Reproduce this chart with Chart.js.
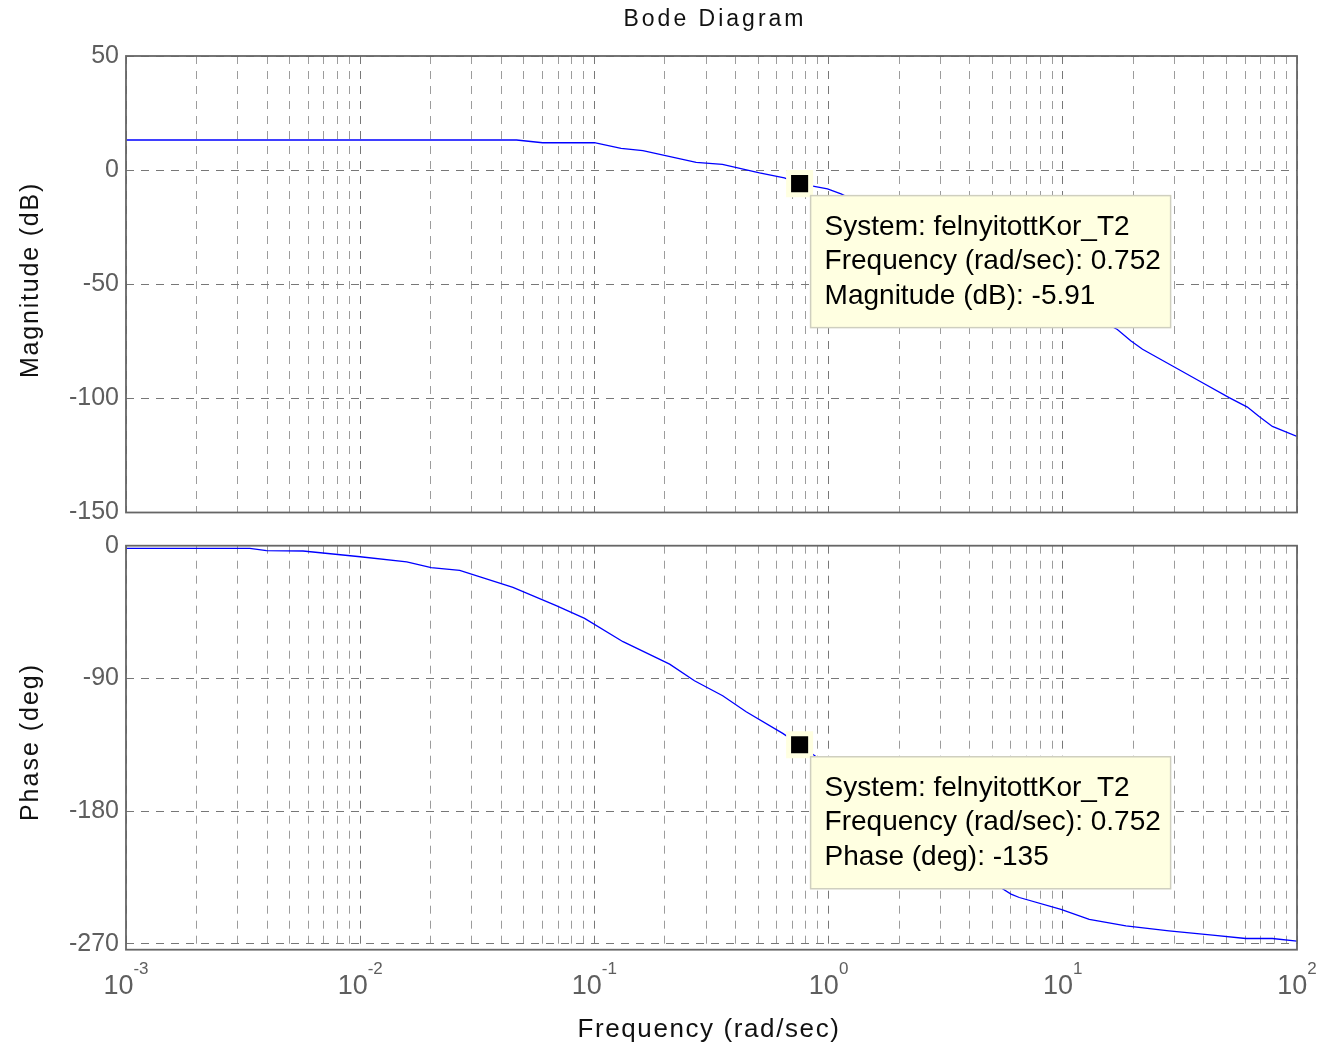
<!DOCTYPE html>
<html>
<head>
<meta charset="utf-8">
<title>Bode Diagram</title>
<script src="https://cdn.jsdelivr.net/npm/chart.js@4.4.7/dist/chart.umd.min.js"></script>
<style>
  html, body { margin: 0; padding: 0; background: #fff; }
  #page { position: relative; width: 1323px; height: 1048px; overflow: hidden; font-family: "Liberation Sans", Arial, sans-serif; }
  .layer { position: absolute; left: 0; top: 0; width: 1323px; height: 1048px; }
  .lbl { position: absolute; color: #111; white-space: nowrap; }
  #title { left: 715px; top: 18px; transform: translate(-50%, -50%); font-size: 23px; letter-spacing: 3px; }
  #xlabel { left: 709px; top: 1028px; transform: translate(-50%, -50%); font-size: 26px; letter-spacing: 1.6px; }
  #ylabelMag { left: 29px; top: 280px; transform: translate(-50%, -50%) rotate(-90deg); font-size: 25px; letter-spacing: 1.8px; }
  #ylabelPhase { left: 29px; top: 742px; transform: translate(-50%, -50%) rotate(-90deg); font-size: 25px; letter-spacing: 2px; }
</style>
</head>
<body>
<div id="page">
  <div class="layer"><canvas id="magChart"></canvas></div>
  <div class="layer"><canvas id="phaseChart"></canvas></div>
  <div class="lbl" id="title">Bode Diagram</div>
  <div class="lbl" id="ylabelMag">Magnitude (dB)</div>
  <div class="lbl" id="ylabelPhase">Phase (deg)</div>
  <div class="lbl" id="xlabel">Frequency (rad/sec)</div>
</div>
<script>
// frequency response samples (rad/sec)
const magFreq = [0.001, 0.0465, 0.0601, 0.1, 0.130, 0.161, 0.272, 0.352, 0.507, 0.647, 0.752, 0.989, 1.13,
                 15.8, 17.1, 19.5, 21.9, 28.9, 38.8, 51.3, 61.4, 68.9, 78.5, 100];
const magDb = [13.2, 13.2, 12.0, 12.0, 9.5, 8.5, 3.4, 2.5, -1.2, -3.4, -5.91, -8.2, -10.4,
               -67.9, -69.8, -74.8, -78.5, -85.4, -92.7, -99.7, -103.8, -107.9, -112.3, -116.7];

const phaseFreq = [0.001, 0.00338, 0.00398, 0.0057, 0.01, 0.0158, 0.0201, 0.0266, 0.0449, 0.0687, 0.0908,
                   0.1325, 0.2095, 0.2674, 0.353, 0.4446, 0.637, 0.752, 0.885,
                   5.36, 6.01, 6.52, 9.82, 12.97, 18.6, 28.4, 43.6, 60.4, 78.5, 100];
const phaseDeg = [-1.8, -1.8, -3.4, -3.6, -7.5, -10.9, -14.8, -16.7, -28.2, -40.7, -49.3,
                  -65.1, -80.3, -91.6, -101.8, -112.6, -127.3, -135, -143.1,
                  -231.3, -236.3, -238.6, -246.7, -253.5, -257.8, -261.2, -264.1, -266.4, -266.4, -268.2];

// data tip
const systemName = "felnyitottKor_T2";
const tipFreq = 0.752;
const tipMag = -5.91;
const tipPhase = -135;

// axes
const xDecades = [-3, -2, -1, 0, 1, 2];
const xMinorSteps = [2, 3, 4, 5, 6, 7, 8, 9];
const magTicks = [50, 0, -50, -100, -150];
const phaseTicks = [0, -90, -180, -270];

const FONT = '"Liberation Sans", Arial, sans-serif';
const TICK_COLOR = "#5e5e5e";

const freqGrid = [];
xDecades.forEach((d, i) => {
    freqGrid.push({ value: Math.pow(10, d), major: true });
    if (i < xDecades.length - 1) {
        xMinorSteps.forEach(m => freqGrid.push({ value: m * Math.pow(10, d), major: false }));
    }
});

function xScale() {
    return {
        type: "logarithmic",
        min: 1e-3,
        max: 1e2,
        afterBuildTicks: s => { s.ticks = freqGrid.map(t => ({ value: t.value, major: t.major })); },
        afterFit: s => { s.height = 0; },
        ticks: { display: false },
        grid: {
            color: c => (c.tick && c.tick.major ? "#777" : "#9c9c9c"),
            lineWidth: 1,
            drawTicks: false,
        },
        border: { display: false, dash: [8, 7] },
    };
}

function yScale(min, max, tickValues) {
    return {
        type: "linear",
        min: min,
        max: max,
        afterBuildTicks: s => { s.ticks = tickValues.map(v => ({ value: v })); },
        afterFit: s => { s.width = 126; },
        ticks: {
            color: TICK_COLOR,
            font: { family: FONT, size: 25 },
            padding: 7,
            callback: v => String(v),
        },
        grid: { color: "#777", lineWidth: 1, drawTicks: false },
        border: { display: false, dash: [8, 7] },
    };
}

// box around the plot area
const axesFrame = {
    id: "axesFrame",
    afterDraw(chart) {
        const a = chart.chartArea, ctx = chart.ctx;
        ctx.save();
        ctx.strokeStyle = "#666";
        ctx.lineWidth = 1.8;
        ctx.strokeRect(a.left, a.top, a.right - a.left, a.bottom - a.top);
        ctx.restore();
    },
};

// yellow data tip box next to the marker
const dataTip = {
    id: "dataTip",
    afterDatasetsDraw(chart, args, opts) {
        if (!opts.lines) return;
        const ctx = chart.ctx;
        const px = chart.scales.x.getPixelForValue(opts.freq);
        const py = chart.scales.y.getPixelForValue(opts.value);
        const left = px + 11, top = py + 12, w = 360, h = 132;
        ctx.save();
        ctx.fillStyle = "#ffffe1";
        ctx.strokeStyle = "#cfcfbf";
        ctx.lineWidth = 1.5;
        ctx.fillRect(left, top, w, h);
        ctx.strokeRect(left, top, w, h);
        ctx.fillStyle = "#000";
        ctx.font = "28px " + FONT;
        ctx.textBaseline = "alphabetic";
        opts.lines.forEach((t, i) => ctx.fillText(t, left + 14, top + 39 + i * 34.5));
        ctx.restore();
    },
};

// 10^n labels under the frequency axis
const decadeLabels = {
    id: "decadeLabels",
    afterDraw(chart, args, opts) {
        if (!opts.show) return;
        const ctx = chart.ctx, x = chart.scales.x, base = chart.chartArea.bottom;
        ctx.save();
        ctx.fillStyle = TICK_COLOR;
        ctx.textBaseline = "alphabetic";
        ctx.textAlign = "left";
        xDecades.forEach(d => {
            const p = x.getPixelForValue(Math.pow(10, d));
            ctx.font = "27px " + FONT;
            const w1 = ctx.measureText("10").width;
            ctx.font = "17px " + FONT;
            const w2 = ctx.measureText(String(d)).width;
            const start = p - (w1 + w2) / 2;
            ctx.font = "27px " + FONT;
            ctx.fillText("10", start, base + 44);
            ctx.font = "17px " + FONT;
            ctx.fillText(String(d), start + w1, base + 24);
        });
        ctx.restore();
    },
};

function curve(freqs, vals) {
    return {
        data: freqs.map((f, i) => ({ x: f, y: vals[i] })),
        borderColor: "#0000ff",
        borderWidth: 1.3,
        pointRadius: 0,
        tension: 0,
        order: 1,
    };
}

function marker(freq, val) {
    return {
        data: [{ x: freq, y: val }],
        showLine: false,
        pointStyle: "rect",
        pointRadius: 15.6,
        pointBackgroundColor: "#000",
        pointBorderColor: "#ffffe1",
        pointBorderWidth: 5,
        order: 0,
    };
}

function makeChart(id, datasets, yOpts, padding, tip, showDecades) {
    return new Chart(document.getElementById(id), {
        type: "line",
        data: { datasets: datasets },
        options: {
            responsive: true,
            maintainAspectRatio: false,
            animation: false,
            events: [],
            layout: { padding: padding },
            scales: { x: xScale(), y: yOpts },
            plugins: {
                legend: { display: false },
                tooltip: { enabled: false },
                dataTip: tip,
                decadeLabels: { show: showDecades },
            },
        },
        plugins: [dataTip, axesFrame, decadeLabels],
    });
}

makeChart(
    "magChart",
    [curve(magFreq, magDb), marker(tipFreq, tipMag)],
    yScale(-150, 50, magTicks),
    { left: 0, right: 26, top: 56, bottom: 1048 - 512.5 },
    {
        freq: tipFreq,
        value: tipMag,
        lines: [
            "System: " + systemName,
            "Frequency (rad/sec): " + tipFreq,
            "Magnitude (dB): " + tipMag,
        ],
    },
    false
);

makeChart(
    "phaseChart",
    [curve(phaseFreq, phaseDeg), marker(tipFreq, tipPhase)],
    yScale(-274, 0, phaseTicks),
    { left: 0, right: 26, top: 545.7, bottom: 1048 - 949.7 },
    {
        freq: tipFreq,
        value: tipPhase,
        lines: [
            "System: " + systemName,
            "Frequency (rad/sec): " + tipFreq,
            "Phase (deg): " + tipPhase,
        ],
    },
    true
);
</script>
</body>
</html>
